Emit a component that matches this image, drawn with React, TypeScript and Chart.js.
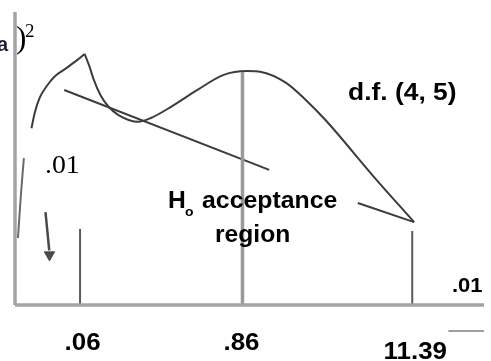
import React, { useEffect, useRef } from "react";
import { Chart, registerables } from "chart.js";

Chart.register(...registerables);

// Chart units: x 0..100 along the horizontal axis, y 0..100 up the vertical axis
const riseX = [3.51, 4.2, 5.25, 6.66, 8.4, 10.86, 13.3, 14.85];
const riseY = [59.9, 65.1, 70.2, 74.0, 77.4, 80.2, 83.1, 85.1];

const fallX = [14.85, 15.76, 16.81, 18.21, 19.96, 22.06, 26.26, 29.0, 33.2, 38.9, 44.5, 49.4, 52.5, 57.8, 62.0, 66.2, 76.7, 85.1];
const fallY = [85.1, 81.4, 76.3, 71.2, 67.2, 64.4, 62.1, 63.4, 67.1, 72.9, 78.0, 79.3, 79.0, 75.3, 69.5, 62.7, 43.1, 28.1];

const tailX = [1.89, 1.26, 0.63];
const tailY = [49.8, 37.3, 22.7];

const tangentX = [10.5, 54.2, null, 73.1, 85.1];
const tangentY = [72.9, 45.8, null, 34.6, 28.1];

const cutX = [13.87, 48.5, 84.7];
const cutTop = [25.8, 79.0, 25.1];
const tickLabels = [".06", ".86", "11.39"];

const arrowX = [6.5, 7.3];
const arrowY = [31.5, 18.5];
const arrowHead = { x: 7.35, y: 17.0 };

const dashX = [92.4, 100];
const dashY = [-8.8, -8.8];

const dfLabel = "d.f. (4, 5)";
const alphaLeft = ".01";
const alphaRight = ".01";

const pts = (xs: (number | null)[], ys: (number | null)[]) =>
  xs.map((x, i) => ({ x: x as any, y: ys[i] as any }));

const line = (data: any[], color: string, width: number) => ({
  data,
  borderColor: color,
  borderWidth: width,
  showLine: true,
  pointRadius: 0,
  fill: false,
  clip: false as any,
  spanGaps: false,
});

function stretchText(
  ctx: CanvasRenderingContext2D,
  text: string,
  x: number,
  y: number,
  font: string,
  sx: number,
  align: "left" | "center" = "left"
) {
  ctx.save();
  ctx.font = font;
  ctx.textBaseline = "alphabetic";
  ctx.textAlign = "left";
  const w = ctx.measureText(text).width * sx;
  const left = align === "center" ? x - w / 2 : x;
  ctx.translate(left, y);
  ctx.scale(sx, 1);
  ctx.fillText(text, 0, 0);
  ctx.restore();
}

const textPlugin = {
  id: "texts",
  afterDatasetsDraw(chart: any) {
    const ctx: CanvasRenderingContext2D = chart.ctx;
    const xs = chart.scales.x;
    ctx.save();
    ctx.fillStyle = "#000";
    const sans = '"Liberation Sans", Arial, sans-serif';
    const serif = '"Liberation Serif", "Times New Roman", serif';

    // top-left fragment
    ctx.fillStyle = "#1e2233";
    stretchText(ctx, "a", -3, 51, `bold 20px ${sans}`, 1, "left");
    ctx.fillStyle = "#000";
    stretchText(ctx, ")", 16, 48, `31px ${serif}`, 1, "left");
    stretchText(ctx, "2", 25, 37, `19px ${serif}`, 1, "left");

    stretchText(ctx, alphaLeft, 45, 173, `26px ${serif}`, 1.07, "left");
    stretchText(ctx, dfLabel, 348, 100, `bold 24px ${sans}`, 1.1, "left");

    stretchText(ctx, "H", 168, 208, `bold 23px ${sans}`, 1.07, "left");
    stretchText(ctx, "o", 185, 216, `bold 13px ${sans}`, 1.07, "left");
    stretchText(ctx, "acceptance", 202, 208, `bold 23px ${sans}`, 1.08, "left");
    stretchText(ctx, "region", 215, 242, `bold 23px ${sans}`, 1.07, "left");

    stretchText(ctx, alphaRight, 452, 292, `bold 20px ${sans}`, 1.1, "left");

    const base = [350, 350, 359];
    const shift = [2.5, -1, 3];
    tickLabels.forEach((t, i) => {
      stretchText(ctx, t, xs.getPixelForValue(cutX[i]) + shift[i], base[i], `bold 24px ${sans}`, 1.08, "center");
    });
    ctx.restore();
  },
};

export default function App() {
  const ref = useRef<HTMLCanvasElement>(null);
  useEffect(() => {
    document.body.style.margin = "0";
    const datasets: any[] = [
      line(pts([0, 100], [0, 0]), "#a3a3a3", 3.5),
      line(pts([0, 0], [0, 99.3]), "#a3a3a3", 3.5),
      line(pts([cutX[0], cutX[0]], [0, cutTop[0]]), "#5a5a5a", 2),
      line(pts([cutX[1], cutX[1]], [0, cutTop[1]]), "#9a9a9a", 3.5),
      line(pts([cutX[2], cutX[2]], [0, cutTop[2]]), "#5a5a5a", 2),
      { ...line(pts(riseX, riseY), "#3c3c3c", 2), cubicInterpolationMode: "monotone" },
      { ...line(pts(fallX, fallY), "#3c3c3c", 2), cubicInterpolationMode: "monotone" },
      { ...line(pts(tailX, tailY), "#6a6a6a", 2), tension: 0.3 },
      line(pts(tangentX, tangentY), "#3c3c3c", 2),
      line(pts(arrowX, arrowY), "#4a4a4a", 2.5),
      {
        data: [arrowHead],
        pointStyle: "triangle",
        rotation: 180,
        pointRadius: 6,
        backgroundColor: "#4a4a4a",
        borderColor: "#4a4a4a",
        borderWidth: 1,
        clip: false,
      },
      line(pts(dashX, dashY), "#808080", 1.5),
    ];
    const chart = new Chart(ref.current!, {
      type: "scatter",
      data: { datasets },
      options: {
        animation: false,
        responsive: false,
        maintainAspectRatio: false,
        layout: { padding: { left: 15, right: 0, top: 10, bottom: 56 } },
        plugins: { legend: { display: false }, tooltip: { enabled: false } },
        scales: {
          x: { type: "linear", min: 0, max: 100, display: false },
          y: { type: "linear", min: 0, max: 100, display: false },
        },
      },
      plugins: [textPlugin],
    });
    return () => chart.destroy();
  }, []);
  return (
    <div style={{ position: "fixed", left: 0, top: 0, width: 491, height: 361, background: "#fff" }}>
      <canvas ref={ref} width={491} height={361} style={{ width: 491, height: 361, display: "block" }} />
    </div>
  );
}
